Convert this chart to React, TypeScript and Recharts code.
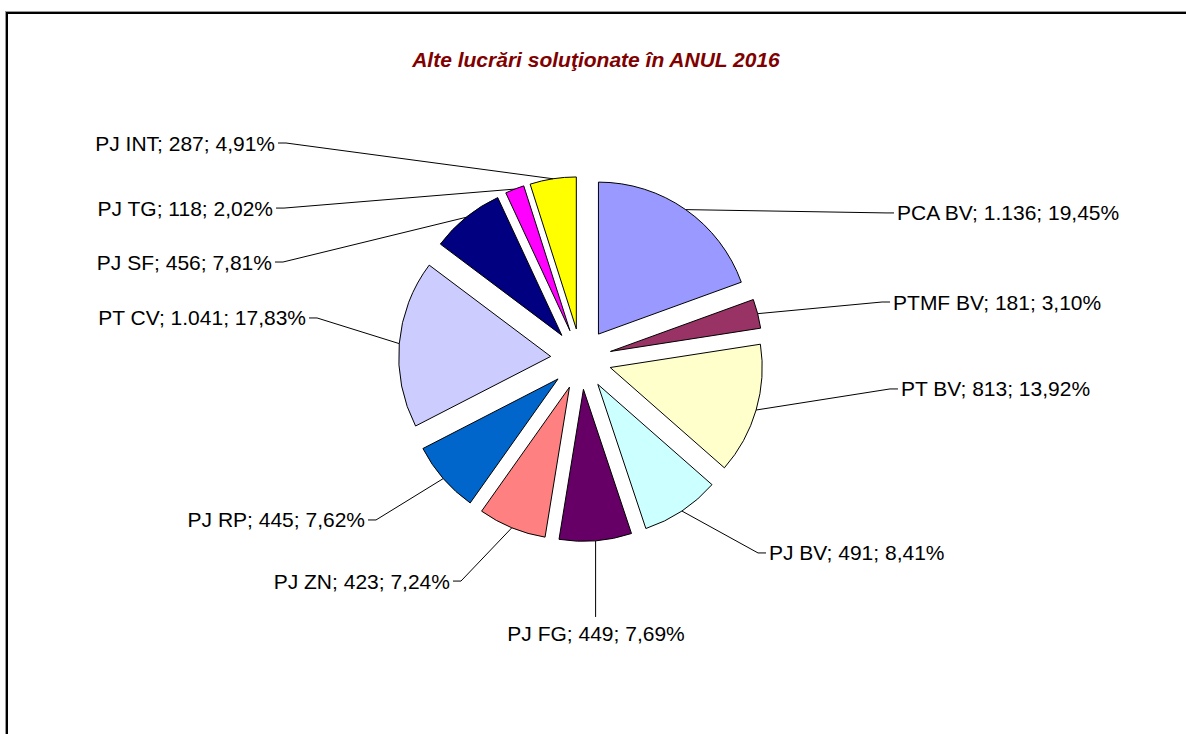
import React from 'react';
import { PieChart, Pie, Sector } from 'recharts';

// ---- data ----
const categories = ['PCA BV', 'PTMF BV', 'PT BV', 'PJ BV', 'PJ FG', 'PJ ZN', 'PJ RP', 'PT CV', 'PJ SF', 'PJ TG', 'PJ INT'];
const values = [1136, 181, 813, 491, 449, 423, 445, 1041, 456, 118, 287];
const sliceColors = ['#9999FF', '#993366', '#FFFFCC', '#CCFFFF', '#660066', '#FF8080', '#0066CC', '#CCCCFF', '#000080', '#FF00FF', '#FFFF00'];
const titleText = 'Alte lucrări soluţionate în ANUL 2016';

// ---- label layout (offset of each label from the pie centre, in pie radii) ----
const labelLayout: [number, number, 'start' | 'end' | 'middle'][] = [
  [2.079, -0.961, 'start'],
  [2.053, -0.375, 'start'],
  [2.105, 0.197, 'start'],
  [1.237, 1.276, 'start'],
  [0.099, 1.809, 'middle'],
  [-0.862, 1.461, 'end'],
  [-1.421, 1.059, 'end'],
  [-1.809, -0.27, 'end'],
  [-2.033, -0.638, 'end'],
  [-2.026, -0.993, 'end'],
  [-2.013, -1.421, 'end'],
];

const total = values.reduce((a, b) => a + b, 0);
const data = categories.map((name, i) => ({ name, value: values[i] }));

const RAD = Math.PI / 180;
const EXPLODE = 0.2;
const FONT = '"Liberation Sans", Arial, sans-serif';

const fmtValue = (v: number) => String(v).replace(/\B(?=(\d{3})+(?!\d))/g, '.');
const fmtPct = (v: number) => ((v / total) * 100).toFixed(2).replace('.', ',') + '%';

function explodedCenter(p: any) {
  const d = p.outerRadius * EXPLODE;
  return {
    x: p.cx + d * Math.cos(-p.midAngle * RAD),
    y: p.cy + d * Math.sin(-p.midAngle * RAD),
  };
}

const renderSlice = (p: any) => {
  const c = explodedCenter(p);
  return (
    <Sector
      key={'s' + p.index}
      cx={c.x}
      cy={c.y}
      innerRadius={0}
      outerRadius={p.outerRadius}
      startAngle={p.startAngle}
      endAngle={p.endAngle}
      fill={sliceColors[p.index]}
      stroke="#000"
      strokeWidth={1}
    />
  );
};

const renderLabel = (p: any) => {
  const i = p.index;
  const c = explodedCenter(p);
  const R = p.outerRadius;
  const sx = c.x + R * Math.cos(-p.midAngle * RAD);
  const sy = c.y + R * Math.sin(-p.midAngle * RAD);
  const [fx, fy, anchor] = labelLayout[i];
  const ax = p.cx + fx * R;
  const ay = p.cy + fy * R;
  let pts: string;
  const ty = ay + 7.5;
  if (anchor === 'start') {
    pts = `${sx},${sy} ${ax - 11},${ay} ${ax - 3},${ay}`;
  } else if (anchor === 'end') {
    pts = `${sx},${sy} ${ax + 11},${ay} ${ax + 3},${ay}`;
  } else {
    pts = `${sx},${sy} ${sx},${ay - 17}`;
  }
  const text = `${categories[i]}; ${fmtValue(values[i])}; ${fmtPct(values[i])}`;
  return (
    <g key={'l' + i}>
      <polyline points={pts} fill="none" stroke="#000" strokeWidth={1} />
      <text x={ax} y={ty} textAnchor={anchor} fontFamily={FONT} fontSize={21} fill="#000">
        {text}
      </text>
    </g>
  );
};

export default function App() {
  return (
    <div style={{ position: 'absolute', left: 0, top: 0, width: 1186, height: 734, overflow: 'hidden', background: '#fff' }}>
      <div
        style={{
          position: 'absolute',
          left: 6,
          top: 12,
          width: 1400,
          height: 1000,
          borderLeft: '2px solid #000',
          borderTop: '2px solid #000',
          boxShadow: '-1px -1px 0 #999',
        }}
      />
      <div
        style={{
          position: 'absolute',
          left: 0,
          top: 50,
          width: 1192,
          textAlign: 'center',
          fontFamily: FONT,
          fontSize: 21,
          lineHeight: '20px',
          fontWeight: 'bold',
          fontStyle: 'italic',
          color: '#800000',
        }}
      >
        {titleText}
      </div>
      <div style={{ position: 'absolute', left: 0, top: 0 }}>
        <PieChart width={1186} height={734} margin={{ top: 0, right: 0, bottom: 0, left: 0 }}>
          <Pie
            data={data}
            dataKey="value"
            nameKey="name"
            cx={581}
            cy={359}
            outerRadius={152}
            startAngle={90}
            endAngle={-270}
            fill="transparent"
            stroke="none"
            label={renderSlice}
            labelLine={false}
            isAnimationActive={false}
          />
          <Pie
            data={data}
            dataKey="value"
            nameKey="name"
            cx={581}
            cy={359}
            outerRadius={152}
            startAngle={90}
            endAngle={-270}
            fill="transparent"
            stroke="none"
            label={renderLabel}
            labelLine={false}
            isAnimationActive={false}
          />
        </PieChart>
      </div>
    </div>
  );
}
